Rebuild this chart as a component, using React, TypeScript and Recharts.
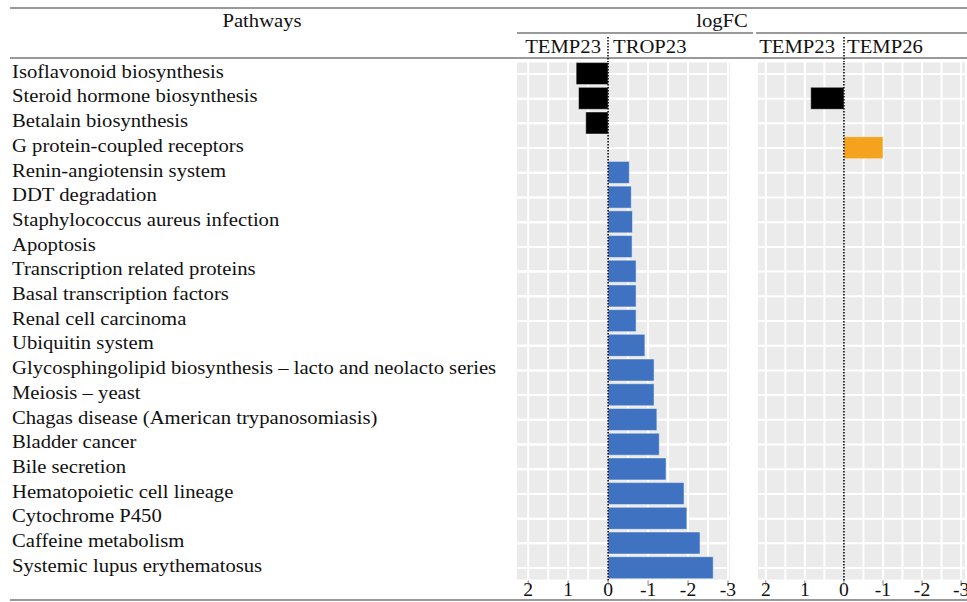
import React from "react";
import {
  Bar,
  BarChart,
  CartesianGrid,
  Cell,
  ReferenceLine,
  XAxis,
  YAxis,
} from "recharts";

const pathways = [
  "Isoflavonoid biosynthesis",
  "Steroid hormone biosynthesis",
  "Betalain biosynthesis",
  "G protein-coupled receptors",
  "Renin-angiotensin system",
  "DDT degradation",
  "Staphylococcus aureus infection",
  "Apoptosis",
  "Transcription related proteins",
  "Basal transcription factors",
  "Renal cell carcinoma",
  "Ubiquitin system",
  "Glycosphingolipid biosynthesis \u2013 lacto and neolacto series",
  "Meiosis \u2013 yeast",
  "Chagas disease (American trypanosomiasis)",
  "Bladder cancer",
  "Bile secretion",
  "Hematopoietic cell lineage",
  "Cytochrome P450",
  "Caffeine metabolism",
  "Systemic lupus erythematosus",
];

// logFC, TEMP23 vs TROP23 (positive = up in TEMP23, drawn to the left)
const tempVsTrop = [
  0.8, 0.74, 0.56, null, -0.53, -0.58, -0.61, -0.6, -0.7, -0.7, -0.7, -0.92,
  -1.15, -1.15, -1.22, -1.28, -1.45, -1.9, -1.97, -2.3, -2.63,
];

// logFC, TEMP23 vs TEMP26
const tempVsTemp = [
  null, 0.85, null, -1.0, null, null, null, null, null, null, null, null, null,
  null, null, null, null, null, null, null, null,
];

const axisTicks = [2, 1, 0, -1, -2, -3];
const gridTicks = [2, 1.5, 1, 0.5, -0.5, -1, -1.5, -2, -2.5, -3];

const data = pathways.map((name, i) => ({
  name,
  left: tempVsTrop[i],
  right: tempVsTemp[i],
}));

const FONT = "'Liberation Serif', 'DejaVu Serif', serif";
const INK = "#111";
const FS = 19.5;
const SX = 1.06;

function PathwayTick(props: any) {
  const { y, payload } = props;
  return (
    <text
      transform={`translate(12, ${y - 3}) scale(${SX}, 1)`}
      dominantBaseline="central"
      textAnchor="start"
      fontFamily={FONT}
      fontSize={FS}
      fill={INK}
    >
      {payload.value}
    </text>
  );
}

function NumberTick(props: any) {
  const { x, y, payload } = props;
  return (
    <text
      transform={`translate(${x}, ${y + 1}) scale(${SX}, 1)`}
      dominantBaseline="hanging"
      textAnchor="middle"
      fontFamily={FONT}
      fontSize={18.5}
      fill={INK}
    >
      {payload.value}
    </text>
  );
}

type PanelProps = {
  dataKey: string;
  negColor: string;
  width: number;
  left: number;
  marginLeft: number;
  marginRight: number;
  domain: [number, number];
  showNames: boolean;
};

// two stacked charts with the same layout: grid behind, bars in front
function Panel(p: PanelProps) {
  const margin = { top: 61.6, right: p.marginRight, bottom: 1.6, left: p.marginLeft };
  const yWidth = p.showNames ? 507 : 0;
  return (
    <>
      <div style={{ position: "absolute", left: p.left, top: 0 }}>
        <BarChart
          width={p.width}
          height={602}
          data={data}
          layout="vertical"
          barSize={22}
          margin={margin}
        >
          <CartesianGrid
            vertical={false}
            fill="#ebebeb"
            fillOpacity={1}
            stroke="#ffffff"
            strokeWidth={2}
          />
          <XAxis
            type="number"
            domain={p.domain}
            reversed
            ticks={axisTicks}
            allowDataOverflow
            interval={0}
            height={20}
            axisLine={false}
            tickLine={{ stroke: "#888" }}
            tickSize={5}
            tickMargin={-4}
            tick={<NumberTick />}
          />
          <YAxis
            type="category"
            dataKey="name"
            width={yWidth}
            axisLine={false}
            tickLine={false}
            interval={0}
            tick={p.showNames ? <PathwayTick /> : false}
          />
          <Bar dataKey={p.dataKey} fill="none" isAnimationActive={false} />
          {gridTicks.map((g) => (
            <ReferenceLine key={`x${g}`} x={g} stroke="#ffffff" strokeWidth={2} />
          ))}
          {pathways.map((n) => (
            <ReferenceLine key={`y${n}`} y={n} stroke="#ffffff" strokeWidth={2} />
          ))}
        </BarChart>
      </div>
      <div style={{ position: "absolute", left: p.left, top: 0 }}>
        <BarChart
          width={p.width}
          height={602}
          data={data}
          layout="vertical"
          barSize={22}
          margin={margin}
        >
          <XAxis
            type="number"
            domain={p.domain}
            reversed
            ticks={axisTicks}
            allowDataOverflow
            height={20}
            axisLine={false}
            tickLine={false}
            tick={false}
          />
          <YAxis
            type="category"
            dataKey="name"
            width={yWidth}
            axisLine={false}
            tickLine={false}
            tick={false}
          />
          <Bar
            dataKey={p.dataKey}
            isAnimationActive={false}
            stroke="rgba(255,255,255,0.45)"
            strokeWidth={1}
          >
            {data.map((d, i) => {
              const v = (d as any)[p.dataKey] as number | null;
              return (
                <Cell key={i} fill={v !== null && v > 0 ? "#000000" : p.negColor} />
              );
            })}
          </Bar>
          <ReferenceLine x={0} stroke="#000" strokeWidth={1.5} strokeDasharray="1.5 1.5" />
        </BarChart>
      </div>
    </>
  );
}

const text: React.CSSProperties = {
  position: "absolute",
  fontFamily: FONT,
  fontSize: FS,
  color: INK,
  whiteSpace: "nowrap",
  lineHeight: 1,
};

export default function App() {
  return (
    <div
      style={{
        position: "absolute",
        left: 0,
        top: 0,
        width: 967,
        height: 602,
        background: "#fff",
        overflow: "hidden",
      }}
    >
      <Panel
        dataKey="left"
        negColor="#3f72c1"
        width={740}
        left={0}
        marginLeft={10}
        marginRight={10}
        domain={[-3.05, 2.28]}
        showNames
      />
      <Panel
        dataKey="right"
        negColor="#f5a31f"
        width={219}
        left={748}
        marginLeft={10}
        marginRight={2}
        domain={[-3.1, 2.2]}
        showNames={false}
      />

      <svg
        width={967}
        height={602}
        style={{ position: "absolute", left: 0, top: 0, pointerEvents: "none" }}
      >
        <line x1={10} x2={967} y1={8} y2={8} stroke="#999" strokeWidth={2} />
        <line x1={517} x2={753} y1={33} y2={33} stroke="#999" strokeWidth={2} />
        <line x1={756} x2={967} y1={33} y2={33} stroke="#999" strokeWidth={2} />
        <line x1={10} x2={967} y1={58} y2={58} stroke="#999" strokeWidth={2} />
        <line x1={10} x2={967} y1={600} y2={600} stroke="#999" strokeWidth={2} />
        <line x1={608} x2={608} y1={37} y2={62} stroke="#000" strokeWidth={1.5} strokeDasharray="1.5 1.5" />
        <line x1={844} x2={844} y1={37} y2={62} stroke="#000" strokeWidth={1.5} strokeDasharray="1.5 1.5" />
      </svg>

      <div style={{ ...text, left: 262, top: 11, transform: `translateX(-50%) scaleX(${SX})` }}>
        Pathways
      </div>
      <div style={{ ...text, left: 722, top: 11, transform: `translateX(-50%) scaleX(${SX})` }}>
        logFC
      </div>
      <div
        style={{
          ...text,
          left: 601,
          top: 37,
          transformOrigin: "0 0",
          transform: `scaleX(${SX}) translateX(-100%)`,
        }}
      >
        TEMP23
      </div>
      <div style={{ ...text, left: 613, top: 37, transformOrigin: "0 0", transform: `scaleX(${SX})` }}>
        TROP23
      </div>
      <div
        style={{
          ...text,
          left: 835,
          top: 37,
          transformOrigin: "0 0",
          transform: `scaleX(${SX}) translateX(-100%)`,
        }}
      >
        TEMP23
      </div>
      <div style={{ ...text, left: 847, top: 37, transformOrigin: "0 0", transform: `scaleX(${SX})` }}>
        TEMP26
      </div>
    </div>
  );
}
